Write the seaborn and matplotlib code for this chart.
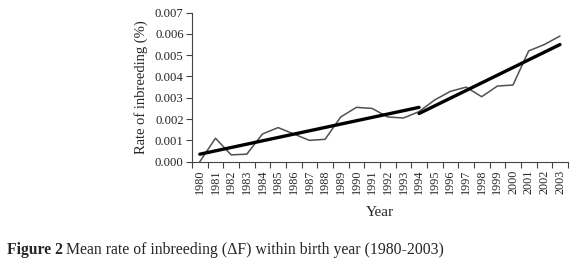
import numpy as np
import pandas as pd
import matplotlib.pyplot as plt
import seaborn as sns

sns.set_style("white")
plt.rcParams['font.family'] = ['Liberation Serif', 'DejaVu Serif']

years = list(range(1980, 2004))
rate = [0.0, 0.0011, 0.00032, 0.00035, 0.0013, 0.0016, 0.0013, 0.001, 0.00105,
        0.0021, 0.00255, 0.0025, 0.0021, 0.00205, 0.00235, 0.0029, 0.0033,
        0.0035, 0.00305, 0.00355, 0.0036, 0.0052, 0.0055, 0.0059]
# trend line endpoints (year, value)
trend1_years = [1980, 1994]
trend1_vals = [0.00035, 0.00255]
trend2_years = [1994, 2003]
trend2_vals = [0.00226, 0.0055]

df = pd.DataFrame({"pos": np.arange(len(years)), "rate": rate})
t1 = pd.DataFrame({"pos": [y - 1980 for y in trend1_years], "rate": trend1_vals})
t2 = pd.DataFrame({"pos": [y - 1980 for y in trend2_years], "rate": trend2_vals})

fig = plt.figure(figsize=(5.8, 2.74), dpi=100)
ax = fig.add_axes([0.331, 0.41, 0.648, 0.544])

sns.lineplot(data=df, x="pos", y="rate", ax=ax, color="#505050", linewidth=1.1)
sns.lineplot(data=t1, x="pos", y="rate", ax=ax, color="black", linewidth=2.4)
sns.lineplot(data=t2, x="pos", y="rate", ax=ax, color="black", linewidth=2.4)

ax.set_xlim(-0.5, len(years) - 0.5)
ax.set_ylim(0, 0.007)
yt = np.arange(0, 0.0071, 0.001)
ax.set_yticks(yt)
ax.set_yticklabels(["%.3f" % v for v in yt], fontsize=9.2)
ax.set_xticks(np.arange(len(years)))
ax.set_xticklabels([str(y) for y in years], rotation=90, fontsize=8.7)
ax.set_xticks(np.arange(len(years) + 1) - 0.5, minor=True)
ax.tick_params(axis="x", which="major", length=0, pad=6)
ax.tick_params(axis="x", which="minor", length=4, width=0.8, color="#444444",
               direction="out", bottom=True)
ax.tick_params(axis="y", length=4, width=0.8, color="#444444", direction="out",
               pad=2, left=True)

for s in ["top", "right"]:
    ax.spines[s].set_visible(False)
for s in ["left", "bottom"]:
    ax.spines[s].set_color("#444444")
    ax.spines[s].set_linewidth(0.8)

ax.set_xlabel("Year", fontsize=11, labelpad=8)
ax.set_ylabel("Rate of inbreeding (%)", fontsize=10.5, labelpad=5)

# caption: bold "Figure 2" followed by normal text
t = fig.text(0.012, 0.088, "Figure 2", fontsize=11.3, fontweight="bold", ha="left", va="center")
fig.canvas.draw()
bb = t.get_window_extent(fig.canvas.get_renderer())
x_next = (bb.x1 + 3.5) / fig.bbox.width
fig.text(x_next, 0.088, "Mean rate of inbreeding (\u0394F) within birth year (1980-2003)",
         fontsize=11.3, ha="left", va="center")

fig.savefig("out.png", dpi=100)
